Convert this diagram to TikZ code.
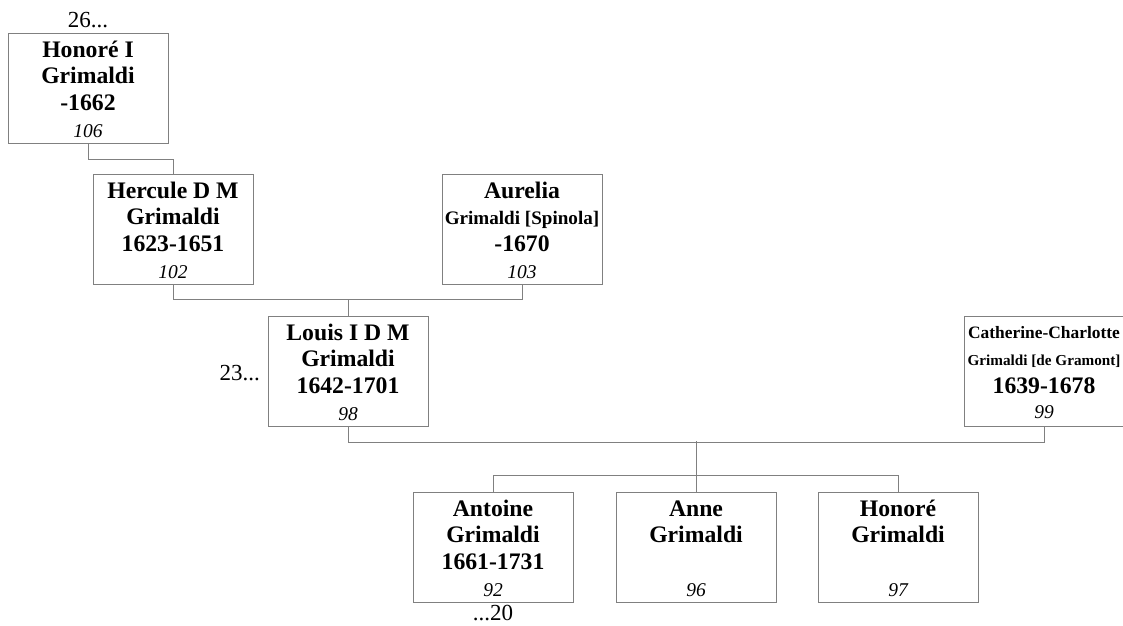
\documentclass[tikz,border=0pt]{standalone}
\usepackage{fontspec}
\setmainfont{Liberation Serif}
\definecolor{lin}{RGB}{128,128,128}
\newcommand{\pnm}{\fontsize{23.7pt}{26pt}\selectfont\bfseries}
\newcommand{\pnmsm}[1]{\fontsize{#1}{#1}\selectfont\bfseries}
\newcommand{\pidx}{\fontsize{19.5pt}{22pt}\selectfont\itshape}
\newcommand{\plab}{\fontsize{23pt}{26pt}\selectfont}
\newcommand{\person}[7]{%
  \node[pbox] (#1) at (#2,#3+55) {};
  \node[ptxt] (#1a) at (#2,#3+24.5) {#4};
  \node[ptxt] (#1b) at (#2,#3+50) {#5};
  \node[ptxt] (#1c) at (#2,#3+77) {#6};
  \node[ptxt] (#1n) at (#2,#3+104) {\pidx #7};
}
\begin{document}
\begin{tikzpicture}[x=1pt,y=-1pt,
  pbox/.style={draw=lin, line width=1pt, minimum width=160pt, minimum height=110pt, inner sep=0pt},
  ptxt/.style={anchor=base, inner sep=0pt, text=black},
  conn/.style={draw=lin, line width=1pt},
  lab/.style={inner sep=0pt, font=\plab}]
\useasboundingbox (0,0) rectangle (1123,625);

\person{honA}{88}{33}{\pnm Honoré I}{\pnm Grimaldi}{\pnm -1662}{106}
\person{herc}{173}{174}{\pnm Hercule D M}{\pnm Grimaldi}{\pnm 1623-1651}{102}
\person{aur}{522}{174}{\pnm Aurelia}{\pnmsm{19.1pt}Grimaldi [Spinola]}{\pnm -1670}{103}
\person{lou}{348}{316}{\pnm Louis I D M}{\pnm Grimaldi}{\pnm 1642-1701}{98}
\node[pbox] (cat) at (1044,371) {};
\node[ptxt] (cata) at (1044,338) {\pnmsm{17.4pt}Catherine-Charlotte};
\node[ptxt] (catb) at (1044,365) {\pnmsm{15.2pt}Grimaldi [de Gramont]};
\node[ptxt] (catc) at (1044,393) {\pnm 1639-1678};
\node[ptxt] (catn) at (1044,418.5) {\pidx 99};
\person{ant}{493}{492}{\pnm Antoine}{\pnm Grimaldi}{\pnm 1661-1731}{92}
\person{ann}{696}{492}{\pnm Anne}{\pnm Grimaldi}{}{96}
\person{honB}{898}{492}{\pnm Honoré}{\pnm Grimaldi}{}{97}

\draw[conn] (honA.south) -- ++(0,16) -| (herc.north);
\draw[conn] (herc.south) -- ++(0,15) -| (aur.south);
\draw[conn] (lou.north) -- ++(0,-17);
\draw[conn] (lou.south) -- ++(0,16) -| (cat.south);
\coordinate (m2) at (696,441);
\draw[conn] (m2) -- (ann.north);
\draw[conn] (ant.north) -- ++(0,-16) -| (honB.north);

\node[lab, anchor=base] (l26) at (88,27) {26...};
\node[lab, anchor=base east] (l23) at (260,380) {23...};
\node[lab, anchor=base] (l20) at (493,620) {...20};
\end{tikzpicture}
\end{document}
